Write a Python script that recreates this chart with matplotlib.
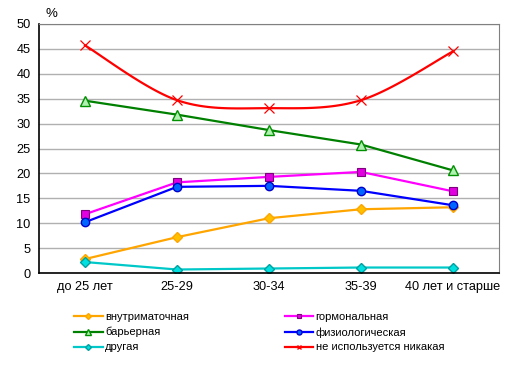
import matplotlib
matplotlib.use("Agg")
import matplotlib.pyplot as plt
import numpy as np

plt.rcParams["font.family"] = ["Liberation Sans", "DejaVu Sans"]

categories = ["до 25 лет", "25-29", "30-34", "35-39", "40 лет и старше"]

iud = [2.8, 7.2, 11.0, 12.8, 13.2]
hormonal = [11.8, 18.2, 19.3, 20.3, 16.4]
barrier = [34.6, 31.8, 28.7, 25.8, 20.6]
physiological = [10.2, 17.3, 17.5, 16.5, 13.6]
other = [2.2, 0.7, 0.9, 1.1, 1.1]
none_used = [45.7, 34.7, 33.1, 34.7, 44.5]


def smooth(xs, ys, steps=30):
    # Excel-style smoothed line: Catmull-Rom through the points
    xs = np.asarray(xs, float)
    ys = np.asarray(ys, float)
    px = np.concatenate([[xs[0]], xs, [xs[-1]]])
    py = np.concatenate([[ys[0]], ys, [ys[-1]]])
    out_x, out_y = [], []
    for i in range(1, len(px) - 2):
        t = np.linspace(0, 1, steps)
        for p, out in ((px, out_x), (py, out_y)):
            p0, p1, p2, p3 = p[i - 1], p[i], p[i + 1], p[i + 2]
            c1 = p1 + (p2 - p0) / 6
            c2 = p2 - (p3 - p1) / 6
            out.extend((1 - t) ** 3 * p1 + 3 * (1 - t) ** 2 * t * c1
                       + 3 * (1 - t) * t ** 2 * c2 + t ** 3 * p2)
    return out_x, out_y


fig = plt.figure(figsize=(5.15, 3.66), dpi=100)
ax = fig.add_axes([39 / 515, 1 - 273 / 366, 460 / 515, 249 / 366])
x = np.arange(len(categories))

ax.plot(x, iud, color="#FFA500", lw=1.6, marker="D", ms=5, mfc="#FFC000",
        mec="#FFA500", label="внутриматочная")
ax.plot(x, hormonal, color="#FF00FF", lw=1.6, marker="s", ms=6, mfc="#E000E0",
        mec="#800080", mew=0.8, label="гормональная")
ax.plot(x, barrier, color="#008000", lw=1.6, marker="^", ms=7, mfc="#B0F0B0",
        mec="#009000", label="барьерная")
ax.plot(x, physiological, color="#0000FF", lw=1.6, marker="o", ms=6,
        mfc="#0066FF", mec="#0000CC", label="физиологическая")
ax.plot(x, other, color="#00C8C8", lw=1.6, marker="D", ms=5, mfc="#00E0E0",
        mec="#00A0A0", label="другая")
sx, sy = smooth(x, none_used)
ax.plot(sx, sy, color="#FF0000", lw=1.6)
ax.plot(x, none_used, ls="none", marker="x", ms=7, mew=0.9, color="#FF0000")
ax.plot([], [], color="#FF0000", lw=1.6, marker="x", ms=6,
        label="не используется никакая")

ax.set_xlim(-0.5, len(categories) - 0.5)
ax.set_ylim(0, 50)
ax.set_yticks(np.arange(0, 51, 5))
ax.set_xticks(x)
ax.set_xticklabels(categories)
ax.tick_params(axis="both", labelsize=9.2, length=0, pad=6)
ax.grid(axis="y", color="#B0B0B0", lw=1)
ax.set_axisbelow(True)
for side in ("top", "right"):
    ax.spines[side].set_color("#808080")
for side in ("left", "bottom"):
    ax.spines[side].set_color("black")
    ax.spines[side].set_linewidth(1.2)

fig.text(46 / 515, 1 - 17 / 366, "%", fontsize=9.5)

handles, labels = ax.get_legend_handles_labels()
order = [0, 2, 4, 1, 3, 5]
fig.legend([handles[i] for i in order], [labels[i] for i in order],
           ncol=2, loc="upper left", bbox_to_anchor=(64 / 515, 1 - 302 / 366),
           frameon=False, fontsize=8, handlelength=2.6, handletextpad=0.2,
           columnspacing=8.6, labelspacing=0.45, markerscale=0.6)

fig.savefig("out.png", dpi=100)
